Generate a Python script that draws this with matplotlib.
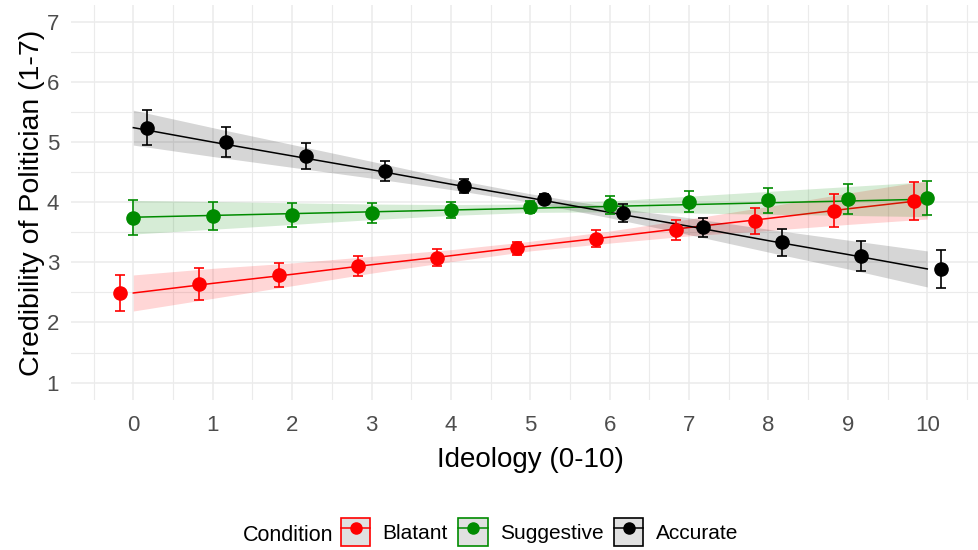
import numpy as np
import matplotlib
matplotlib.use('Agg')
import matplotlib.pyplot as plt
from matplotlib.patches import Rectangle
from matplotlib.lines import Line2D
from matplotlib.legend_handler import HandlerTuple

plt.rcParams['font.family'] = ['Liberation Sans', 'DejaVu Sans']

# ideology levels
ideology = [0, 1, 2, 3, 4, 5, 6, 7, 8, 9, 10]
conditions = ['Blatant', 'Suggestive', 'Accurate']

blatant_mean = [2.49, 2.64, 2.79, 2.94, 3.08, 3.23, 3.39, 3.54, 3.69, 3.86, 4.02]
blatant_err = [0.30, 0.26, 0.20, 0.17, 0.14, 0.10, 0.14, 0.17, 0.22, 0.27, 0.32]
suggestive_mean = [3.74, 3.77, 3.79, 3.82, 3.87, 3.92, 3.95, 4.01, 4.03, 4.05, 4.07]
suggestive_err = [0.29, 0.24, 0.20, 0.17, 0.13, 0.10, 0.15, 0.17, 0.21, 0.25, 0.29]
accurate_mean = [5.24, 5.00, 4.77, 4.52, 4.27, 4.06, 3.82, 3.58, 3.33, 3.11, 2.89]
accurate_err = [0.29, 0.25, 0.21, 0.17, 0.11, 0.08, 0.15, 0.16, 0.22, 0.25, 0.31]

# linear fit lines and their confidence band half-widths
blatant_fit = [2.49, 2.65, 2.80, 2.96, 3.11, 3.27, 3.42, 3.58, 3.73, 3.89, 4.04]
blatant_band = [0.30, 0.25, 0.19, 0.14, 0.10, 0.08, 0.10, 0.14, 0.20, 0.26, 0.32]
suggestive_fit = [3.75, 3.78, 3.81, 3.84, 3.87, 3.90, 3.93, 3.96, 3.99, 4.02, 4.05]
suggestive_band = [0.28, 0.23, 0.18, 0.13, 0.09, 0.07, 0.09, 0.14, 0.19, 0.24, 0.29]
accurate_fit = [5.24, 5.00, 4.77, 4.54, 4.30, 4.07, 3.83, 3.60, 3.36, 3.13, 2.89]
accurate_band = [0.29, 0.24, 0.19, 0.14, 0.09, 0.07, 0.09, 0.14, 0.19, 0.24, 0.30]

colors = ['#ff0000', '#008b00', '#000000']
dodge = [-0.17, 0.0, 0.17]

means = [blatant_mean, suggestive_mean, accurate_mean]
errs = [blatant_err, suggestive_err, accurate_err]
fits = [blatant_fit, suggestive_fit, accurate_fit]
bands = [blatant_band, suggestive_band, accurate_band]

fig = plt.figure(figsize=(9.79, 5.5), dpi=100)
ax = fig.add_axes([71 / 979, 1 - 400 / 550, (989.6 - 71) / 979, 395 / 550])

x = np.array(ideology, dtype=float)
for i, cond in enumerate(conditions):
    fit = np.array(fits[i])
    band = np.array(bands[i])
    ax.fill_between(x, fit - band, fit + band, color=colors[i], alpha=0.16,
                    linewidth=0, zorder=2 + 2 * i)
    ax.plot(x, fit, color=colors[i], lw=1.1, zorder=3 + 2 * i)

for i, cond in enumerate(conditions):
    ax.errorbar(x + dodge[i], means[i], yerr=errs[i], fmt='o', color=colors[i],
                ms=9.5, elinewidth=1.2, capsize=3.5, capthick=1.2, zorder=10 + i)

ax.set_xlim(-0.785, 10.785)
ax.set_ylim(0.71, 7.28)
ax.set_xticks(ideology)
ax.set_yticks([1, 2, 3, 4, 5, 6, 7])
ax.set_xticks(np.arange(-0.5, 11, 1), minor=True)
ax.set_yticks(np.arange(1.5, 7, 1), minor=True)
ax.grid(True, which='major', color='#ebebeb', lw=1.1, zorder=0)
ax.grid(True, which='minor', color='#ebebeb', lw=0.8, zorder=0)
ax.set_axisbelow(True)
for s in ax.spines.values():
    s.set_visible(False)
ax.tick_params(which='both', length=0)
ax.tick_params(axis='both', labelsize=16, labelcolor='#4d4d4d')
ax.tick_params(axis='x', pad=11)
ax.tick_params(axis='y', pad=8.5)

ax.set_xlabel('Ideology (0-10)', fontsize=20, labelpad=8)
ax.set_ylabel('Credibility of Politician (1-7)', fontsize=20.5, labelpad=1.5)

# legend
handles = []
for i, cond in enumerate(conditions):
    box = Rectangle((0, 0), 1, 1, facecolor='#e0e0e0', edgecolor=colors[i], lw=1.2)
    ln = Line2D([], [], color=colors[i], lw=1.1, marker='o', ms=8)
    handles.append((box, ln))
fig.legend(handles, conditions, handler_map={tuple: HandlerTuple(ndivide=1)},
           loc='center left', bbox_to_anchor=(341 / 979, 1 - 532 / 550),
           ncol=3, frameon=False, fontsize=15, handlelength=1.4, handleheight=1.75,
           handletextpad=0.6, columnspacing=0.5, borderpad=0, borderaxespad=0,
           numpoints=1)
fig.text(243 / 979, 1 - 533 / 550, 'Condition', fontsize=15.5, va='center_baseline', ha='left')

fig.savefig('out.png', dpi=100)
